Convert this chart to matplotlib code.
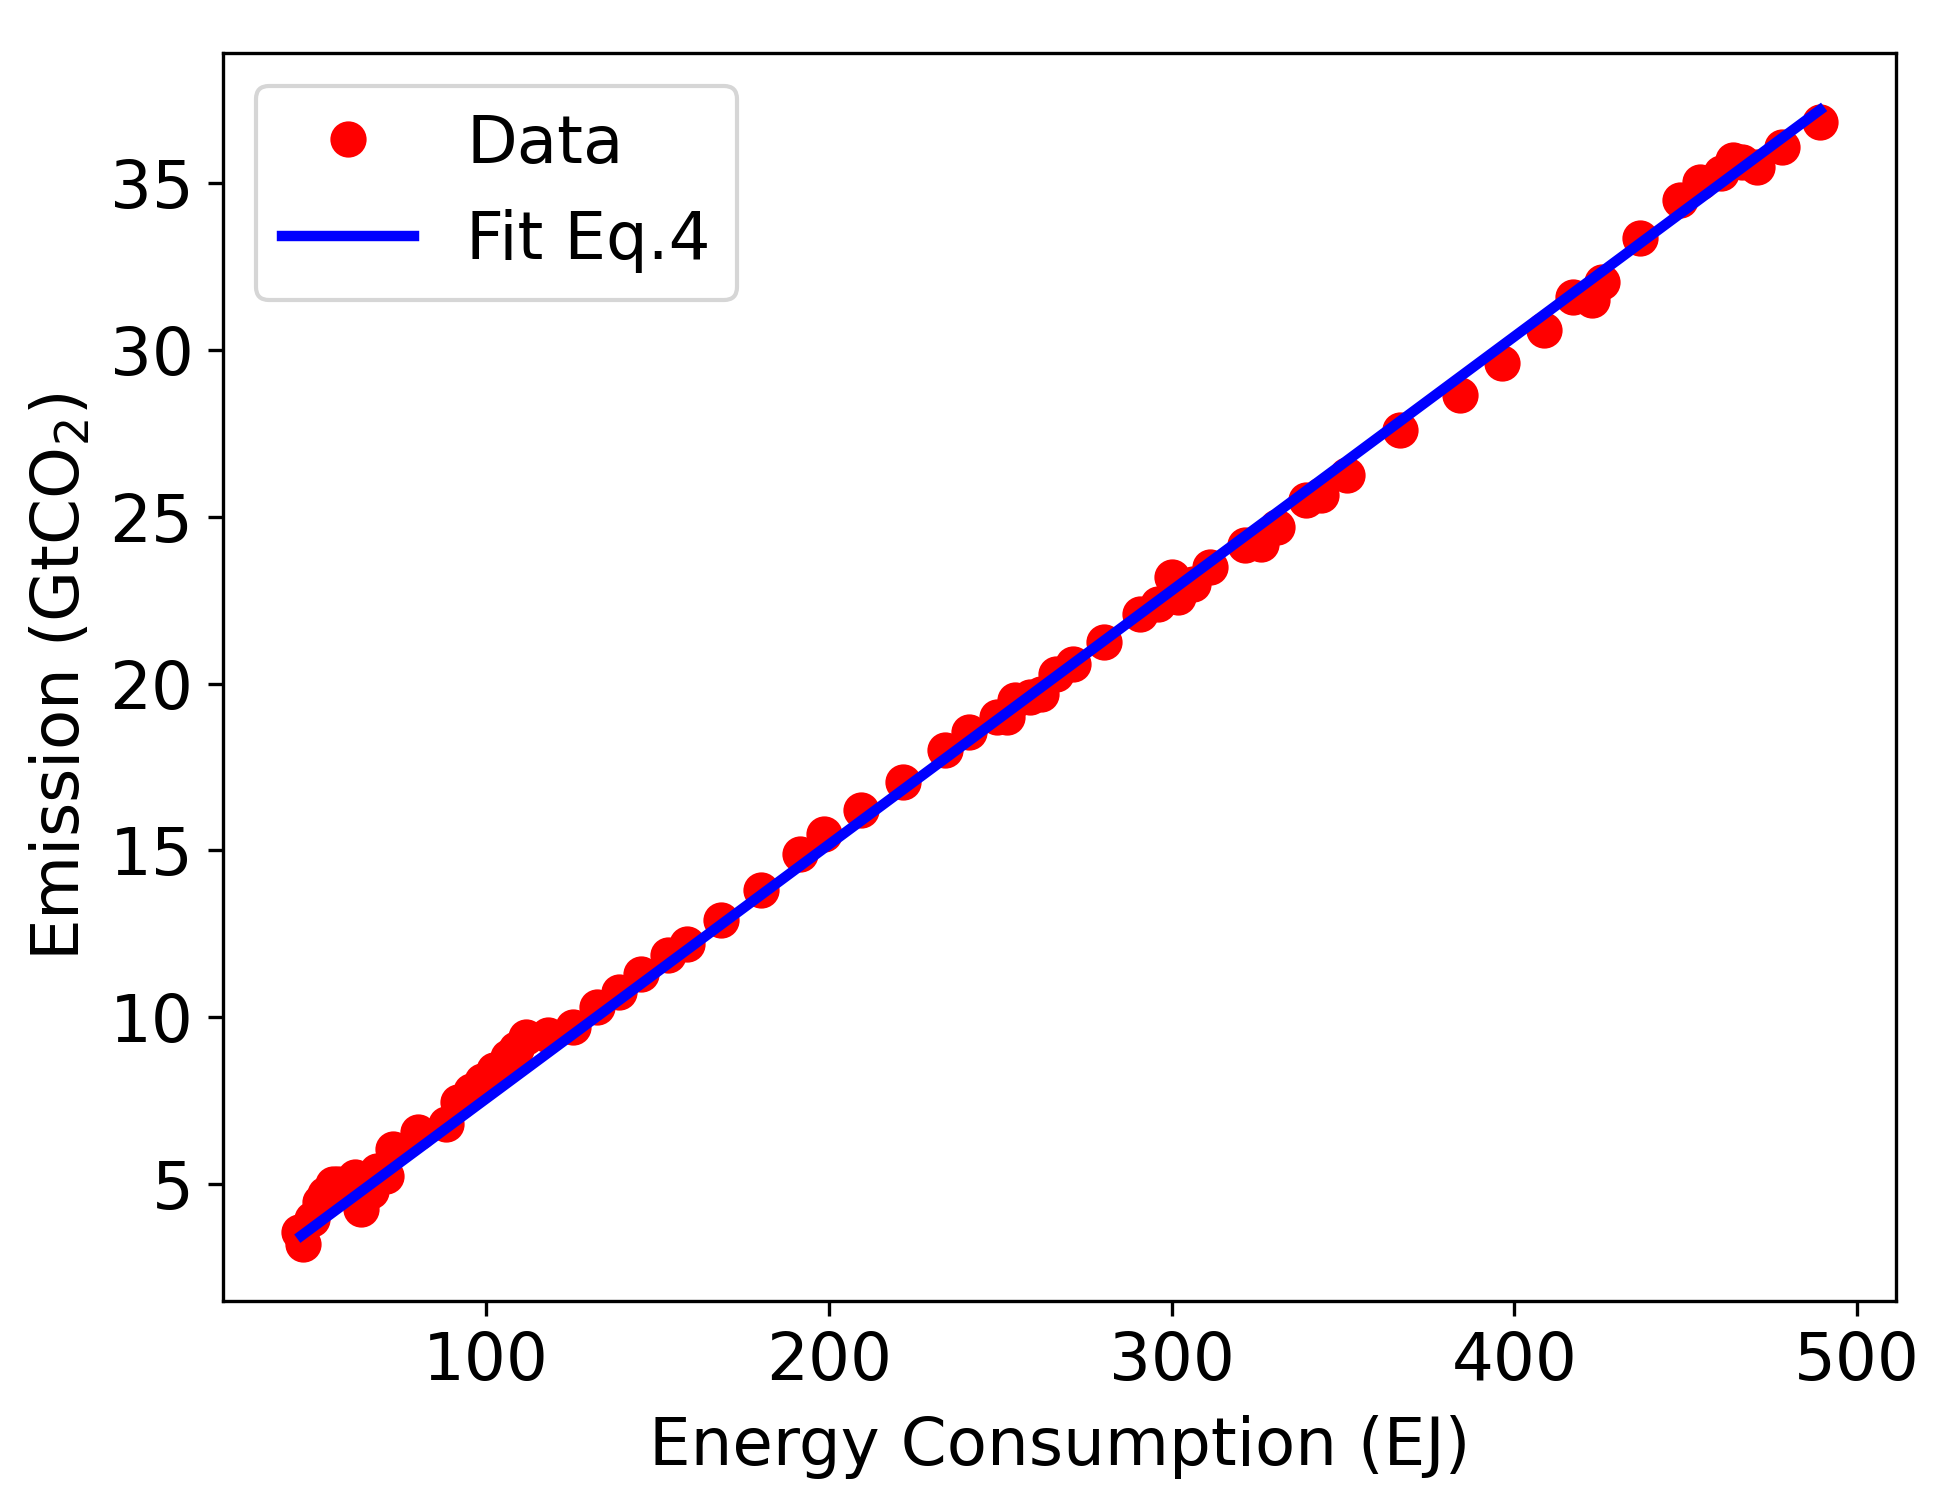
import numpy as np
import matplotlib
matplotlib.use("Agg")
import matplotlib.pyplot as plt

# data
energy = [45.4, 46.7, 49.4, 51.6, 53.0, 55.5, 57.0, 61.8, 63.7, 66.4, 68.2, 71.0, 72.9,
          80.2, 88.4, 91.9, 95.7, 98.9, 102.5, 106.5, 108.7, 111.6, 118.0, 125.3, 132.5,
          138.7, 145.2, 153.2, 158.6, 168.7, 180.2, 191.5, 198.7, 209.5, 221.6, 233.8,
          241.0, 249.0, 252.0, 254.4, 258.7, 262.0, 266.3, 271.3, 280.4, 290.9, 296.0,
          300.0, 301.8, 306.1, 311.1, 321.3, 326.0, 330.6, 339.3, 343.6, 351.2, 366.5,
          384.2, 396.5, 408.5, 417.0, 422.5, 425.4, 436.5, 448.4, 454.2, 460.2, 463.8,
          466.5, 470.7, 478.0, 489.1]
emission = [3.55, 3.2, 3.95, 4.45, 4.7, 5.0, 5.0, 5.2, 4.25, 4.8, 5.4, 5.25, 6.05,
            6.55, 6.8, 7.45, 7.8, 8.1, 8.4, 8.8, 9.05, 9.4, 9.45, 9.7, 10.3,
            10.75, 11.3, 11.85, 12.2, 12.9, 13.8, 14.9, 15.5, 16.2, 17.05, 18.0,
            18.55, 19.0, 19.0, 19.5, 19.6, 19.7, 20.3, 20.6, 21.25, 22.1, 22.4,
            23.2, 22.6, 23.0, 23.5, 24.15, 24.2, 24.7, 25.5, 25.65, 26.25, 27.6,
            28.65, 29.6, 30.6, 31.6, 31.5, 32.05, 33.37, 34.5, 35.05, 35.3, 35.7,
            35.65, 35.5, 36.1, 36.85]

# fit line end points
fit_x = [46.2, 489.1]
fit_y = [3.45, 37.2]

fig = plt.figure(figsize=(1948 / 300, 1505 / 300), dpi=300)
ax = fig.add_axes([0.1143, 0.1358, 0.8590, 0.8288])

ax.plot(energy, emission, 'o', color='red', markersize=7.7, label='Data')
ax.plot(fit_x, fit_y, '-', color='blue', linewidth=2.5, label='Fit Eq.4')

fs = 15.8
ax.set_xlabel('Energy Consumption (EJ)', fontsize=fs, labelpad=5)
ax.set_ylabel('Emission (GtCO$_2$)', fontsize=fs)
ax.tick_params(labelsize=fs)
ax.set_xticks([100, 200, 300, 400, 500])
ax.set_yticks([5, 10, 15, 20, 25, 30, 35])
ax.legend(loc='upper left', fontsize=fs)

fig.savefig('out.png', dpi=300)
